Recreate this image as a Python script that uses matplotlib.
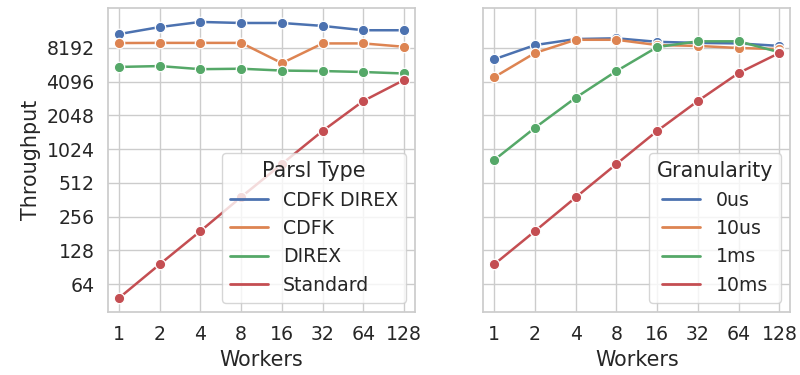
import matplotlib
matplotlib.use("Agg")
import matplotlib.pyplot as plt
from matplotlib.lines import Line2D
from matplotlib.ticker import FixedLocator, FixedFormatter, NullLocator
import seaborn as sns

sns.set_theme(style="whitegrid", font_scale=1.24)

workers = [1, 2, 4, 8, 16, 32, 64, 128]

# left panel: throughput by parsl type
parsl_types = ["CDFK DIREX", "CDFK", "DIREX", "Standard"]
cdfk_direx = [10900, 12600, 14000, 13700, 13700, 12900, 11800, 11800]
cdfk = [9070, 9100, 9100, 9100, 6000, 9000, 9000, 8400]
direx = [5550, 5650, 5300, 5350, 5150, 5100, 5000, 4850]
standard = [48, 96, 190, 383, 755, 1490, 2760, 4250]

# right panel: throughput by granularity
granularities = ["0us", "10us", "1ms", "10ms"]
g_0us = [6500, 8700, 9850, 10000, 9300, 9100, 9000, 8550]
g_10us = [4500, 7400, 9700, 9700, 8700, 8550, 8192, 8000]
g_1ms = [820, 1590, 2950, 5100, 8350, 9400, 9400, 7500]
g_10ms = [96, 190, 380, 755, 1490, 2760, 4900, 7400]

colors = sns.color_palette("deep")[:4]
yticks = [64, 128, 256, 512, 1024, 2048, 4096, 8192]

fig, axes = plt.subplots(1, 2, figsize=(8, 3.75), dpi=100, sharey=True)
fig.subplots_adjust(left=0.135, right=0.988, top=0.979, bottom=0.168, wspace=0.222)


def draw(ax, series, names, title):
    for vals, c in zip(series, colors):
        ax.plot(workers, vals, color=c, lw=1.8, marker="o", ms=7.5,
                markeredgecolor="white", markeredgewidth=0.9)
    ax.set_xscale("log", base=2)
    ax.set_yscale("log", base=2)
    ax.xaxis.set_major_locator(FixedLocator(workers))
    ax.xaxis.set_major_formatter(FixedFormatter([str(w) for w in workers]))
    ax.xaxis.set_minor_locator(NullLocator())
    ax.yaxis.set_major_locator(FixedLocator(yticks))
    ax.yaxis.set_major_formatter(FixedFormatter([str(t) for t in yticks]))
    ax.yaxis.set_minor_locator(NullLocator())
    ax.set_xlim(2 ** -0.27, 2 ** 7.27)
    ax.set_ylim(2 ** 5.17, 2 ** 14.19)
    ax.set_xlabel("Workers")
    handles = [Line2D([], [], color=c, lw=2) for c in colors]
    ax.legend(handles, names, title=title, loc="lower right")


draw(axes[0], [cdfk_direx, cdfk, direx, standard], parsl_types, "Parsl Type")
draw(axes[1], [g_0us, g_10us, g_1ms, g_10ms], granularities, "Granularity")
axes[0].set_ylabel("Throughput")

fig.savefig("out.png")
